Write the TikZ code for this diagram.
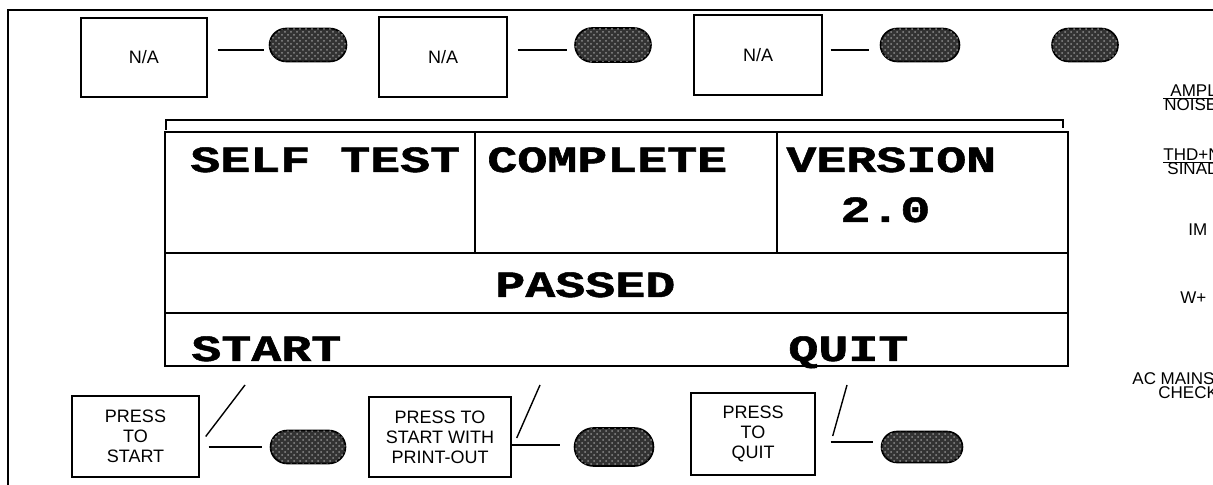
\documentclass[tikz,border=0pt]{standalone}
\usepackage{fontspec}
\setmainfont{Liberation Sans}
\newfontfamily\lcdfont{Liberation Mono}[BoldFeatures={FakeBold=1.2}]
\usetikzlibrary{shapes.misc,patterns}
\newcommand{\lcdtext}[1]{\scalebox{1.35}[1]{#1}}

\begin{document}
\begin{tikzpicture}[
	x=0.5pt, y=-0.5pt,
	keybox/.style={rectangle,draw,line width=0.7pt,inner sep=0pt,align=center,font=\fontsize{9}{10}\selectfont},
	knob/.style={rounded rectangle,draw,line width=0.8pt,fill=black!80,inner sep=0pt,
		postaction={pattern=crosshatch dots,pattern color=black!45}},
	lcd/.style={anchor=base west,inner sep=0pt,font=\lcdfont\bfseries\fontsize{18.5}{18.5}\selectfont},
	side/.style={anchor=base west,inner sep=0pt,font=\fontsize{8.5}{8.5}\selectfont},
	]
\useasboundingbox (0,0) rectangle (1213,485);
\draw [line width=1pt] (8,495) -- (8,10) -- (1220,10);

% top row of soft keys
\node [keybox,minimum width=63pt,minimum height=39.5pt] (na1) at (144,57.5) {N/A};
\node [keybox,minimum width=64pt,minimum height=40pt] (na2) at (443,57) {N/A};
\node [keybox,minimum width=64pt,minimum height=40pt] (na3) at (758,55) {N/A};
\node [knob,minimum width=38.5pt,minimum height=16.5pt] (k1) at (308,45) {};
\node [knob,minimum width=38pt,minimum height=17pt] (k2) at (613,45) {};
\node [knob,minimum width=39.5pt,minimum height=16.5pt] (k3) at (920,45) {};
\node [knob,minimum width=33pt,minimum height=16.5pt] (k4) at (1085,45) {};
\draw [line width=0.6pt,shorten <=5pt,shorten >=2.5pt] ([yshift=-2.5pt]na1.east |- k1.west) -- ([yshift=-2.5pt]k1.west);
\draw [line width=0.6pt,shorten <=5pt,shorten >=3.5pt] ([yshift=-2.5pt]na2.east |- k2.west) -- ([yshift=-2.5pt]k2.west);
\draw [line width=0.6pt,shorten <=4pt,shorten >=5.5pt] ([yshift=-2.5pt]na3.east |- k3.west) -- ([yshift=-2.5pt]k3.west);

% display
\draw [line width=0.6pt] (166,130) -- (166,120) -- (1063,120) -- (1063,128);
\draw [line width=1.4pt] (165,132) rectangle (1068,366);
\draw [line width=1.4pt] (165,253) -- (1068,253) (165,313) -- (1068,313);
\draw [line width=1pt] (475,132) -- (475,253) (777,132) -- (777,253);
\node [lcd] (selftest) at (190,172) {\lcdtext{SELF TEST}};
\node [lcd] (complete) at (487,172) {\lcdtext{COMPLETE}};
\node [lcd] (version) at (786,172) {\lcdtext{VERSION}};
\node [lcd] (vnum) at (840,222) {\lcdtext{2.0}};
\node [lcd] (passed) at (495,297) {\lcdtext{PASSED}};
\node [lcd] (start) at (191,361) {\lcdtext{START}};
\node [lcd] (quit) at (788,361) {\lcdtext{QUIT}};

% bottom row of soft keys
\node [keybox,minimum width=63.5pt,minimum height=40.5pt] (pb1) at (135.5,436.5) {PRESS\\TO\\START};
\node [keybox,minimum width=71pt,minimum height=40pt] (pb2) at (440,437) {PRESS TO\\START WITH\\PRINT-OUT};
\node [keybox,minimum width=62pt,minimum height=41pt] (pb3) at (753,434) {PRESS\\TO\\QUIT};
\node [knob,minimum width=37.5pt,minimum height=16.5pt] (kb1) at (308,447) {};
\node [knob,minimum width=39.5pt,minimum height=19pt] (kb2) at (614,447) {};
\node [knob,minimum width=40.5pt,minimum height=15.5pt] (kb3) at (922,447) {};
\coordinate (s1) at (245,385);
\coordinate (s2) at (540,385);
\coordinate (s3) at (847,385);
\draw [line width=0.7pt] ([xshift=3pt]pb1.east) -- (s1);
\draw [line width=0.7pt] ([xshift=2.5pt,yshift=-0.5pt]pb2.east) -- (s2);
\draw [line width=0.7pt] ([xshift=8.5pt,yshift=-1pt]pb3.east) -- (s3);
\draw [line width=0.6pt,shorten <=4.5pt,shorten >=4pt] (pb1.east |- kb1.west) -- (kb1.west);
\draw [line width=0.6pt,shorten >=7pt] ([yshift=1pt]pb2.east |- kb2.west) -- ([yshift=1pt]kb2.west);
\draw [line width=0.6pt,shorten <=7.5pt,shorten >=4pt] ([yshift=2.5pt]pb3.east |- kb3.west) -- ([yshift=2.5pt]kb3.west);

% function labels at the right edge
\node [side] (ampl) at (1170,97) {AMPL};
\node [side] (noise) at (1164,111) {NOISE};
\draw [line width=0.5pt] (1163,99) -- (1220,99);
\node [side] (thdn) at (1163,161) {THD+N};
\node [side] (sinad) at (1167,175) {SINAD};
\draw [line width=0.5pt] (1163,163) -- (1220,163);
\node [side] (im) at (1188,236) {IM};
\node [side] (wplus) at (1180,304) {W+};
\node [side] (acmains) at (1132,385) {AC MAINS};
\node [side] (check) at (1158,399) {CHECK};
\end{tikzpicture}
\end{document}
